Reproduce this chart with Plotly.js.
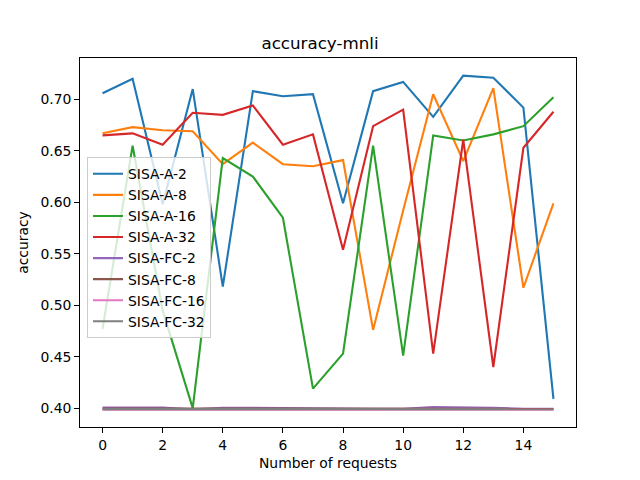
<!DOCTYPE html>
<html>
<head>
<meta charset="utf-8">
<script src="https://cdn.plot.ly/plotly-3.0.1.min.js"></script>
<style>html,body{margin:0;padding:0;background:#fff;}#chart{width:640px;height:480px;}</style>
</head>
<body>
<div id="chart"></div>
<script>
const requests = [0,1,2,3,4,5,6,7,8,9,10,11,12,13,14,15];
const seriesNames = ["SISA-A-2","SISA-A-8","SISA-A-16","SISA-A-32","SISA-FC-2","SISA-FC-8","SISA-FC-16","SISA-FC-32"];
const sisaA2  = [0.706,0.720,0.598,0.710,0.518,0.708,0.703,0.705,0.599,0.708,0.717,0.683,0.723,0.721,0.692,0.409];
const sisaA8  = [0.667,0.673,0.670,0.669,0.637,0.658,0.637,0.635,0.641,0.476,0.592,0.705,0.640,0.711,0.517,0.599];
const sisaA16 = [0.477,0.655,0.495,0.400,0.643,0.625,0.585,0.419,0.453,0.655,0.451,0.665,0.660,0.666,0.674,0.702];
const sisaA32 = [0.665,0.667,0.656,0.687,0.685,0.694,0.656,0.666,0.554,0.674,0.690,0.453,0.661,0.440,0.653,0.688];
const sisaFC2  = [0.4007,0.4007,0.4006,0.3990,0.4003,0.4003,0.4003,0.3997,0.3996,0.3994,0.3993,0.4010,0.4010,0.4004,0.3993,0.3993];
const sisaFC8  = [0.3996,0.3996,0.3996,0.3990,0.3996,0.3996,0.3996,0.3995,0.3996,0.3994,0.3994,0.3997,0.3997,0.3996,0.3993,0.3994];
const sisaFC16 = [0.3985,0.3985,0.3985,0.3986,0.3985,0.3985,0.3985,0.3985,0.3985,0.3984,0.3984,0.3985,0.3985,0.3985,0.3985,0.3985];
const sisaFC32 = [0.3991,0.3991,0.3991,0.3989,0.3991,0.3991,0.3991,0.3990,0.3991,0.3990,0.3990,0.3992,0.3992,0.3991,0.3990,0.3990];
const colors = ["#1f77b4","#ff7f0e","#2ca02c","#d62728","#9467bd","#8c564b","#e377c2","#7f7f7f"];
const allSeries = [sisaA2,sisaA8,sisaA16,sisaA32,sisaFC2,sisaFC8,sisaFC16,sisaFC32];

const traces = allSeries.map((ys,i)=>({
  x: requests, y: ys, type:'scatter', mode:'lines', name: seriesNames[i],
  line:{color:colors[i], width:2.1}
}));

const font = {family:'DejaVu Sans, sans-serif', size:13.9, color:'#000'};
const layout = {
  width:640, height:480,
  margin:{l:80, r:64, t:57.6, b:52.8, pad:0},
  paper_bgcolor:'#fff', plot_bgcolor:'#fff',
  font: font,
  title:{text:'accuracy-mnli', font:{family:'DejaVu Sans, sans-serif', size:16.7, color:'#000'}, x:0.5, xanchor:'center', y:0.91, yanchor:'middle'},
  xaxis:{
    range:[-0.75,15.75], tickmode:'linear', tick0:0, dtick:2,
    showgrid:false, zeroline:false, showline:true, mirror:true, linecolor:'#000', linewidth:1,
    ticks:'outside', ticklen:4.9, tickwidth:1, tickcolor:'#000',
    tickfont:font,
    title:{text:'Number of requests', font:font, standoff:6}
  },
  yaxis:{
    range:[0.3817,0.7402], tickmode:'linear', tick0:0.4, dtick:0.05, tickformat:'.2f',
    showgrid:false, zeroline:false, showline:true, mirror:true, linecolor:'#000', linewidth:1,
    ticks:'outside', ticklen:4.9, tickwidth:1, tickcolor:'#000',
    tickfont:font,
    title:{text:'accuracy', font:font, standoff:8}
  },
  showlegend:true,
  legend:{
    x:0.0141, y:0.731, xanchor:'left', yanchor:'top',
    bgcolor:'rgba(255,255,255,0.8)', bordercolor:'#cccccc', borderwidth:1,
    font:font, tracegroupgap:0
  }
};
Plotly.newPlot('chart', traces, layout, {staticPlot:true, displayModeBar:false});
</script>
</body>
</html>
